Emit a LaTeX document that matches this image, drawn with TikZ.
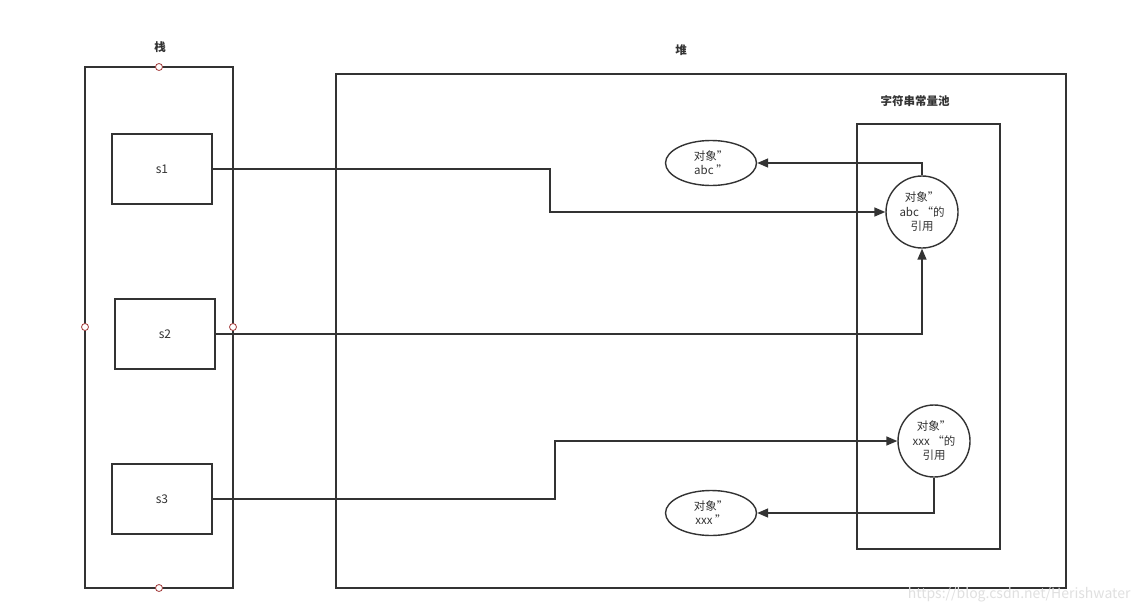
\documentclass[tikz,border=0pt]{standalone}
\usepackage{fontspec}
\setmainfont{Noto Sans CJK SC}
\usetikzlibrary{arrows.meta,shapes.geometric}
\definecolor{ln}{HTML}{333333}
\definecolor{port}{HTML}{A33B3B}
\tikzset{
  box/.style={draw=ln,line width=1.6pt,fill=none,inner sep=0pt},
  varbox/.style={draw=ln,line width=1.6pt,minimum width=100pt,minimum height=70pt,inner sep=0pt,font=\fontsize{12}{14}\selectfont,text=ln},
  obj/.style={draw=ln,line width=1.4pt,ellipse,minimum width=91pt,minimum height=45pt,inner sep=0pt,align=center,font=\fontsize{11.5}{14}\selectfont,text=ln},
  refc/.style={draw=ln,line width=1.4pt,circle,minimum size=72pt,inner sep=0pt,align=center,font=\fontsize{11.5}{14.5}\selectfont,text=ln},
  conn/.style={draw=ln,line width=1.5pt,-{Triangle[length=11pt,width=9pt]}},
  title/.style={font=\bfseries\fontsize{11.5}{13}\selectfont,text=ln},
  portc/.style={draw=port,fill=white,circle,line width=0.8pt,minimum size=7pt,inner sep=0pt}
}
\begin{document}
\begin{tikzpicture}[x=1pt,y=-1pt]
\useasboundingbox (0,0) rectangle (1145,613);
\fill[white] (0,0) rectangle (1145,613);
% containers
\node[box,minimum width=148pt,minimum height=521pt] (stack) at (159,327.5) {};
\node[box,minimum width=730pt,minimum height=514pt] (heap) at (701,331) {};
\node[box,minimum width=143pt,minimum height=425pt] (pool) at (928.5,336.5) {};
\node[title] (stackl) at (160,47) {栈};
\node[title] (heapl) at (681,50) {堆};
\node[title] (pooll) at (915,101) {字符串常量池};
% stack variables
\node[varbox] (s1) at (162,169) {s1};
\node[varbox] (s2) at (165,334) {s2};
\node[varbox] (s3) at (162,499) {s3};
% objects
\node[obj] (o1) at (711,163) {对象”\\abc ”};
\node[obj] (o2) at (711,513) {对象”\\xxx ”};
\node[refc] (r1) at (922,212) {对象”\\abc “的\\引用};
\node[refc] (r2) at (934,441) {对象”\\xxx “的\\引用};
% connectors
\draw[conn] (s1.east) -- ++(337,0) |- (r1.west);
\draw[conn] (s2.east) -| (r1.south);
\draw[conn] (s3.east) -- ++(342,0) |- (r2.west);
\draw[conn] (r1.north) |- (o1.east);
\draw[conn] (r2.south) |- (o2.east);
% ports
\node[portc] (p1) at (159,67) {};
\node[portc] (p2) at (85,327) {};
\node[portc] (p3) at (233,327) {};
\node[portc] (p4) at (159,588) {};
% watermark
\node[text=black!12,font=\fontsize{14}{16}\selectfont,anchor=east] (wm) at (1134,595) {https://blog.csdn.net/Herishwater};
\end{tikzpicture}
\end{document}
